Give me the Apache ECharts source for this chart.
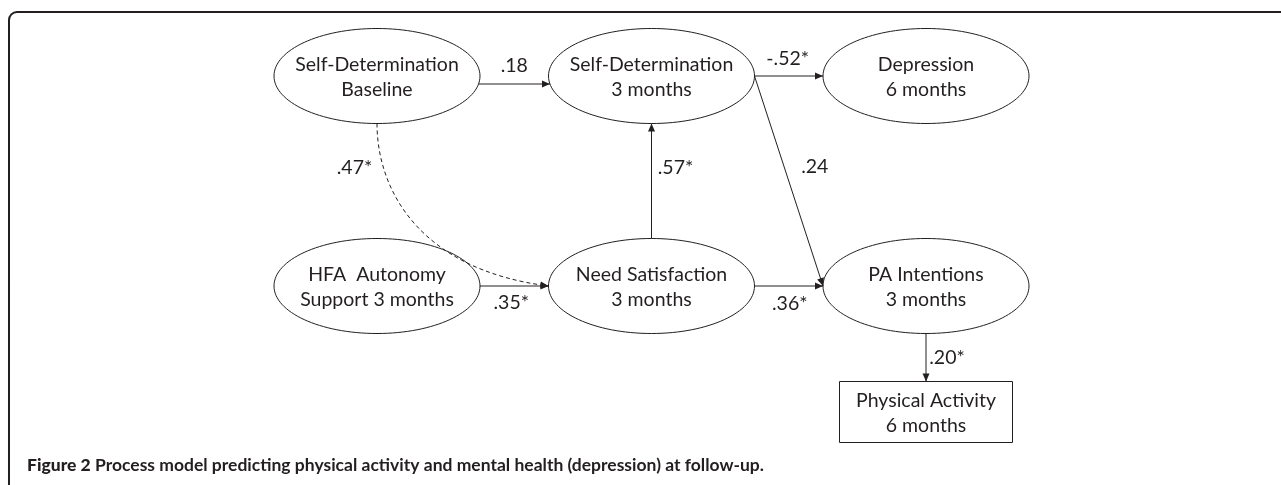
<!DOCTYPE html>
<html>
<head>
<meta charset="utf-8">
<script src="https://cdn.jsdelivr.net/npm/echarts@6/dist/echarts.min.js"></script>
<style>
html, body { margin: 0; padding: 0; background: #fff; }
#chart { width: 1281px; height: 485px; }
</style>
</head>
<body>
<div id="chart"></div>
<script>
// variables of the process model
var nodeNames = [
    'Self-Determination\nBaseline',
    'Self-Determination\n3 months',
    'Depression\n6 months',
    'HFA  Autonomy\nSupport 3 months',
    'Need Satisfaction\n3 months',
    'PA Intentions\n3 months',
    'Physical Activity\n6 months'
];
var nodeCol = [0, 1, 2, 0, 1, 2, 2];
var nodeRow = [0, 0, 0, 1, 1, 1, 1.6];
var nodeKind = ['latent', 'latent', 'latent', 'latent', 'latent', 'latent', 'observed'];

// standardized path coefficients
var pathFrom = [0, 1, 4, 3, 0, 4, 1, 5];
var pathTo = [1, 2, 1, 4, 4, 5, 5, 6];
var pathCoef = ['.18', '-.52*', '.57*', '.35*', '.47*', '.36*', '.24', '.20*'];
var pathDashed = [false, false, false, false, true, false, false, false];

var caption = 'Process model predicting physical activity and mental health (depression) at follow-up.';

var INK = '#231f20';
var FONT = 'Lato';
var ELL = [103, 47.5];
var BOX = [86.5, 30.5];
// small per-path tweaks: vertical shift of the line, label offset from its middle
var pathLift = [8, 0, 0, 0, 0, 0, 0, 0];
var labelOff = [[0, -18], [-1, -17], [24, -13], [-3, 17], [-60, -56], [1, 18], [26, -14], [21, 0]];

function nodeBox(api, i) {
    var c = api.coord([nodeCol[i], nodeRow[i]]);
    var s = nodeKind[i] === 'observed' ? BOX : ELL;
    return { x: c[0], y: c[1], rx: s[0], ry: s[1] };
}

function arrowHead(tip, from) {
    var dx = tip[0] - from[0], dy = tip[1] - from[1];
    var L = Math.sqrt(dx * dx + dy * dy);
    var ux = dx / L, uy = dy / L, len = 8, w = 3.5;
    var bx = tip[0] - ux * len, by = tip[1] - uy * len;
    return {
        type: 'polygon',
        shape: { points: [tip, [bx - uy * w, by + ux * w], [bx + uy * w, by - ux * w]] },
        style: { fill: INK }
    };
}

function renderNode(params, api) {
    var i = api.value(2);
    var b = nodeBox(api, i);
    var shape = nodeKind[i] === 'observed'
        ? { type: 'rect', shape: { x: b.x - b.rx, y: b.y - b.ry, width: b.rx * 2, height: b.ry * 2 },
            style: { fill: '#fff', stroke: INK, lineWidth: 1 } }
        : { type: 'ellipse', shape: { cx: b.x, cy: b.y, rx: b.rx, ry: b.ry },
            style: { fill: '#fff', stroke: INK, lineWidth: 1 } };
    return {
        type: 'group',
        children: [shape, {
            type: 'text',
            style: {
                text: nodeNames[i], x: b.x, y: b.y + 1, align: 'center', verticalAlign: 'middle',
                fontFamily: FONT, fontSize: 19.5, lineHeight: 25, fill: INK
            }
        }]
    };
}

function renderPath(params, api) {
    var i = api.value(2);
    var f = pathFrom[i], t = pathTo[i];
    var a = nodeBox(api, f), b = nodeBox(api, t);
    var kids = [], p0, p1, mid, last;
    if (pathDashed[i]) {
        p0 = [a.x, a.y + a.ry];
        p1 = [b.x - b.rx, b.y];
        var dx = p1[0] - p0[0], dy = p1[1] - p0[1];
        var c1 = [p0[0], p0[1] + 0.41 * dy];
        var c2 = [p1[0] - 0.75 * dx, p1[1] - 0.1 * dy];
        kids.push({
            type: 'bezierCurve',
            shape: { x1: p0[0], y1: p0[1], x2: p1[0], y2: p1[1], cpx1: c1[0], cpy1: c1[1], cpx2: c2[0], cpy2: c2[1] },
            style: { stroke: INK, lineWidth: 1, lineDash: [4, 3], fill: null }
        });
        mid = [(p0[0] + 3 * c1[0] + 3 * c2[0] + p1[0]) / 8, (p0[1] + 3 * c1[1] + 3 * c2[1] + p1[1]) / 8];
        last = c2;
    } else {
        if (nodeCol[f] === nodeCol[t]) {
            var down = b.y > a.y ? 1 : -1;
            p0 = [a.x, a.y + down * a.ry];
            p1 = [b.x, b.y - down * b.ry];
        } else {
            var lift = pathLift[i];
            var ka = Math.sqrt(1 - Math.pow(lift / a.ry, 2));
            var kb = Math.sqrt(1 - Math.pow(lift / b.ry, 2));
            p0 = [a.x + a.rx * ka, a.y + lift];
            p1 = [b.x - b.rx * kb, b.y + lift];
        }
        kids.push({
            type: 'line',
            shape: { x1: p0[0], y1: p0[1], x2: p1[0], y2: p1[1] },
            style: { stroke: INK, lineWidth: 1 }
        });
        mid = [(p0[0] + p1[0]) / 2, (p0[1] + p1[1]) / 2];
        last = p0;
    }
    kids.push(arrowHead(p1, last));
    kids.push({
        type: 'text',
        style: {
            text: pathCoef[i], x: mid[0] + labelOff[i][0], y: mid[1] + labelOff[i][1],
            align: 'center', verticalAlign: 'middle', fontFamily: FONT, fontSize: 19.5, fill: INK
        }
    });
    return { type: 'group', children: kids };
}

var chart = echarts.init(document.getElementById('chart'));
chart.setOption({
    backgroundColor: '#fff',
    animation: false,
    title: {
        text: '{b|Figure 2} ' + caption,
        left: 22,
        top: 451,
        textStyle: {
            fontFamily: FONT, fontSize: 17.5, fontWeight: 'bold', color: INK,
            rich: { b: { fontFamily: FONT, fontSize: 17.5, fontWeight: 900, color: INK } }
        }
    },
    graphic: [{
        type: 'rect',
        shape: { x: 9, y: 12, width: 1400, height: 600, r: 8 },
        style: { fill: 'none', stroke: INK, lineWidth: 2 },
        silent: true
    }],
    grid: { left: 377, top: 76, width: 549, height: 210 },
    xAxis: { type: 'value', min: 0, max: 2, show: false },
    yAxis: { type: 'value', min: 0, max: 1, inverse: true, show: false },
    series: [{
        type: 'custom',
        silent: true,
        renderItem: renderNode,
        encode: { x: 0, y: 1 },
        data: nodeNames.map(function (n, i) { return [nodeCol[i], nodeRow[i], i]; })
    }, {
        type: 'custom',
        silent: true,
        renderItem: renderPath,
        encode: { x: 0, y: 1 },
        data: pathCoef.map(function (c, i) { return [nodeCol[pathFrom[i]], nodeRow[pathFrom[i]], i]; })
    }]
});
</script>
</body>
</html>
